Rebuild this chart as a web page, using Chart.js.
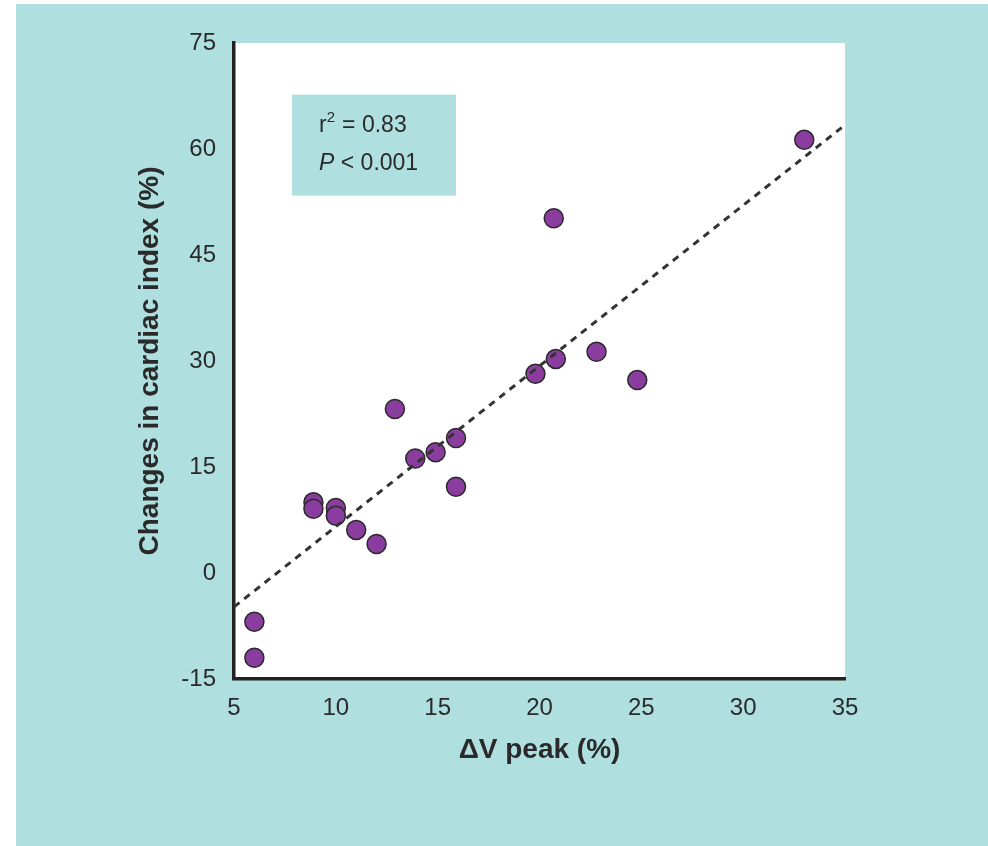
<!DOCTYPE html>
<html>
<head>
<meta charset="utf-8">
<script src="https://cdn.jsdelivr.net/npm/chart.js@4/dist/chart.umd.min.js"></script>
<style>
  html, body { margin: 0; padding: 0; background: #ffffff; }
  #wrap { position: absolute; left: 16px; top: 4px; width: 972px; height: 842px; }
</style>
</head>
<body>
<div id="wrap"><canvas id="chart" width="972" height="842"></canvas></div>
<script>
// values
const deltaVPeak = [33, 20.7, 20.8, 22.8, 19.8, 24.8, 12.9, 15.9, 14.9, 13.9, 15.9, 8.9, 8.9, 10, 10, 11, 12, 6, 6];
const cardiacChange = [61.3, 50.2, 30.3, 31.3, 28.2, 27.3, 23.2, 19.1, 17.1, 16.2, 12.2, 10, 9.1, 9.2, 8.1, 6.1, 4.1, -6.9, -12];
const fitX = [5, 35];
const fitY = [-4.8, 63.4];
const xTicks = [5, 10, 15, 20, 25, 30, 35];
const yTicks = [-15, 0, 15, 30, 45, 60, 75];
const statsLines = ['r² = 0.83', 'P < 0.001'];

const CYAN = '#b0dfe0';
const FAMILY = 'Arial, "Liberation Sans", Helvetica, sans-serif';

const backgroundPlugin = {
  id: 'background',
  beforeDraw: (chart) => {
    const { ctx, chartArea } = chart;
    ctx.save();
    ctx.fillStyle = CYAN;
    ctx.fillRect(0, 0, chart.width, chart.height);
    ctx.fillStyle = '#ffffff';
    ctx.fillRect(chartArea.left, chartArea.top, chartArea.right - chartArea.left, chartArea.bottom - chartArea.top);
    // stats box
    const x = chart.scales.x;
    const y = chart.scales.y;
    const bx = x.getPixelForValue(7.85);
    const by = y.getPixelForValue(67.7);
    const bw = x.getPixelForValue(15.9) - bx;
    const bh = y.getPixelForValue(53.4) - by;
    ctx.fillStyle = CYAN;
    ctx.fillRect(bx, by, bw, bh);
    ctx.fillStyle = '#2a2a2a';
    ctx.textBaseline = 'middle';
    ctx.textAlign = 'left';
    const tx = bx + 27;
    ctx.font = `23px ${FAMILY}`;
    ctx.fillText('r', tx, by + 31);
    const rw = ctx.measureText('r').width;
    ctx.font = `15px ${FAMILY}`;
    ctx.fillText('2', tx + rw, by + 23);
    ctx.font = `23px ${FAMILY}`;
    ctx.fillText(statsLines[0].slice(2), tx + rw + 9, by + 31);
    ctx.font = `italic 23px ${FAMILY}`;
    ctx.fillText('P', tx, by + 69);
    const pw = ctx.measureText('P').width;
    ctx.font = `23px ${FAMILY}`;
    ctx.fillText(statsLines[1].slice(1), tx + pw, by + 69);
    ctx.restore();
  },
};

const axisFont = { family: FAMILY, size: 24 };
const titleFont = { family: FAMILY, size: 28, weight: 'bold' };

new Chart(document.getElementById('chart'), {
  type: 'scatter',
  data: {
    datasets: [
      {
        type: 'line',
        data: fitX.map((v, i) => ({ x: v, y: fitY[i] })),
        borderColor: '#333333',
        borderWidth: 3,
        borderDash: [7, 6],
        pointRadius: 0,
        fill: false,
      },
      {
        data: deltaVPeak.map((v, i) => ({ x: v, y: cardiacChange[i] })),
        backgroundColor: '#8a3d9e',
        borderColor: '#2a2a2a',
        borderWidth: 1.5,
        pointRadius: 9.5,
      },
    ],
  },
  options: {
    responsive: false,
    animation: false,
    layout: { padding: { left: 0, top: 39, right: 143, bottom: 0 } },
    plugins: { legend: { display: false }, tooltip: { enabled: false } },
    scales: {
      x: {
        type: 'linear',
        min: 5,
        max: 35,
        afterBuildTicks: (s) => { s.ticks = xTicks.map((v) => ({ value: v })); },
        afterFit: (s) => { s.height = 167; },
        grid: { display: false, drawOnChartArea: false, drawTicks: true, tickLength: 9, tickColor: '#333333', tickWidth: 2 },
        border: { display: true, color: '#222222', width: 3.5 },
        ticks: { color: '#2a2a2a', font: axisFont, padding: 6, maxRotation: 0 },
        title: { display: true, text: 'ΔV peak (%)', color: '#2a2a2a', font: titleFont, padding: { bottom: 79 } },
      },
      y: {
        type: 'linear',
        min: -15,
        max: 75,
        afterBuildTicks: (s) => { s.ticks = yTicks.map((v) => ({ value: v })); },
        afterFit: (s) => { s.width = 218; },
        grid: { display: false, drawOnChartArea: false, drawTicks: true, tickLength: 10, tickColor: '#333333', tickWidth: 2 },
        border: { display: true, color: '#222222', width: 3.5 },
        ticks: { color: '#2a2a2a', font: axisFont, padding: 8 },
        title: { display: true, text: 'Changes in cardiac index (%)', color: '#2a2a2a', font: titleFont, padding: { top: 117 } },
      },
    },
  },
  plugins: [backgroundPlugin],
});
</script>
</body>
</html>
